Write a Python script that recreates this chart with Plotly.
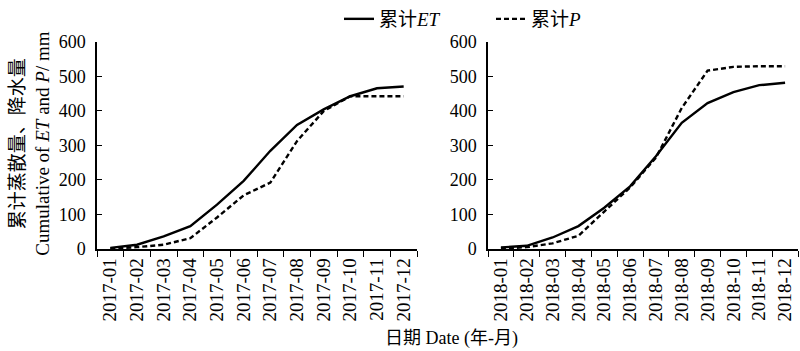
import plotly.graph_objects as go

months_2017 = ["2017-01","2017-02","2017-03","2017-04","2017-05","2017-06",
               "2017-07","2017-08","2017-09","2017-10","2017-11","2017-12"]
months_2018 = ["2018-01","2018-02","2018-03","2018-04","2018-05","2018-06",
               "2018-07","2018-08","2018-09","2018-10","2018-11","2018-12"]

et_2017 = [3, 12, 36, 66, 128, 197, 284, 359, 404, 442, 465, 470]
p_2017 = [1, 5, 12, 31, 91, 155, 192, 312, 399, 442, 442, 442]
et_2018 = [4, 9, 33, 66, 119, 181, 268, 365, 422, 454, 474, 481]
p_2018 = [1, 5, 16, 38, 108, 178, 264, 408, 516, 527, 529, 529]

yticks = [0, 100, 200, 300, 400, 500, 600]

SERIF = "Liberation Serif, Times New Roman, Noto Sans CJK SC"
CJK = "Noto Sans CJK SC"


def zh(s):
    return f'<span style="font-family:{CJK}">{s}</span>'


ET_NAME = zh("累计") + "<i>ET</i>"
P_NAME = zh("累计") + "<i>P</i>"

fig = go.Figure()
line_w = 2.4
fig.add_trace(go.Scatter(x=months_2017, y=et_2017, mode="lines", name=ET_NAME,
                         line=dict(color="black", width=line_w), xaxis="x", yaxis="y"))
fig.add_trace(go.Scatter(x=months_2017, y=p_2017, mode="lines", name=P_NAME,
                         line=dict(color="black", width=line_w, dash="5px,3px"), xaxis="x", yaxis="y"))
fig.add_trace(go.Scatter(x=months_2018, y=et_2018, mode="lines", name=ET_NAME, showlegend=False,
                         line=dict(color="black", width=line_w), xaxis="x2", yaxis="y2"))
fig.add_trace(go.Scatter(x=months_2018, y=p_2018, mode="lines", name=P_NAME, showlegend=False,
                         line=dict(color="black", width=line_w, dash="5px,3px"), xaxis="x2", yaxis="y2"))

ydom = [(351 - 248) / 351, (351 - 39) / 351]

xcommon = dict(type="category", range=[-0.5, 11.5], showgrid=False, zeroline=False,
               showline=True, linecolor="black", linewidth=1.5, automargin=False,
               ticks="outside", tickson="boundaries", ticklen=6, tickcolor="black", tickwidth=1.2,
               tickangle=-90, tickfont=dict(family=SERIF, size=19, color="black"))
ycommon = dict(range=[0, 600], tickvals=yticks, showgrid=False, zeroline=False,
               showline=True, linecolor="black", linewidth=1.5, automargin=False,
               ticks="inside", ticklen=5, tickcolor="black", tickwidth=1.2,
               tickfont=dict(family=SERIF, size=18, color="black"), ticklabelstandoff=6,
               domain=ydom)

fig.update_layout(
    width=800, height=351,
    margin=dict(l=0, r=0, t=0, b=0),
    paper_bgcolor="white", plot_bgcolor="white",
    xaxis=dict(domain=[97 / 800, 417 / 800], anchor="y", **xcommon),
    xaxis2=dict(domain=[488 / 800, 798 / 800], anchor="y2", **xcommon),
    yaxis=dict(anchor="x", **ycommon),
    yaxis2=dict(anchor="x2", **ycommon),
    legend=dict(orientation="h", x=339 / 800, xanchor="left", y=1.01, yanchor="top",
                font=dict(family=SERIF, size=19, color="black"),
                bgcolor="rgba(0,0,0,0)", entrywidth=107, entrywidthmode="pixels"),
    showlegend=True,
    annotations=[
        dict(text=zh("累计蒸散量、降水量") + "<br>Cumulative of <i>ET</i> and <i>P</i>/ mm",
             xref="paper", yref="paper", x=28 / 800, y=(351 - 142) / 351,
             xanchor="center", yanchor="middle", textangle=-90, showarrow=False,
             font=dict(family=SERIF, size=19, color="black")),
        dict(text=zh("日期") + " Date (" + zh("年") + "-" + zh("月") + ")",
             xref="paper", yref="paper",
             x=452 / 800, y=0, xanchor="center", yanchor="bottom",
             showarrow=False, font=dict(family=SERIF, size=18, color="black")),
    ],
)

fig.write_html("out.html")
